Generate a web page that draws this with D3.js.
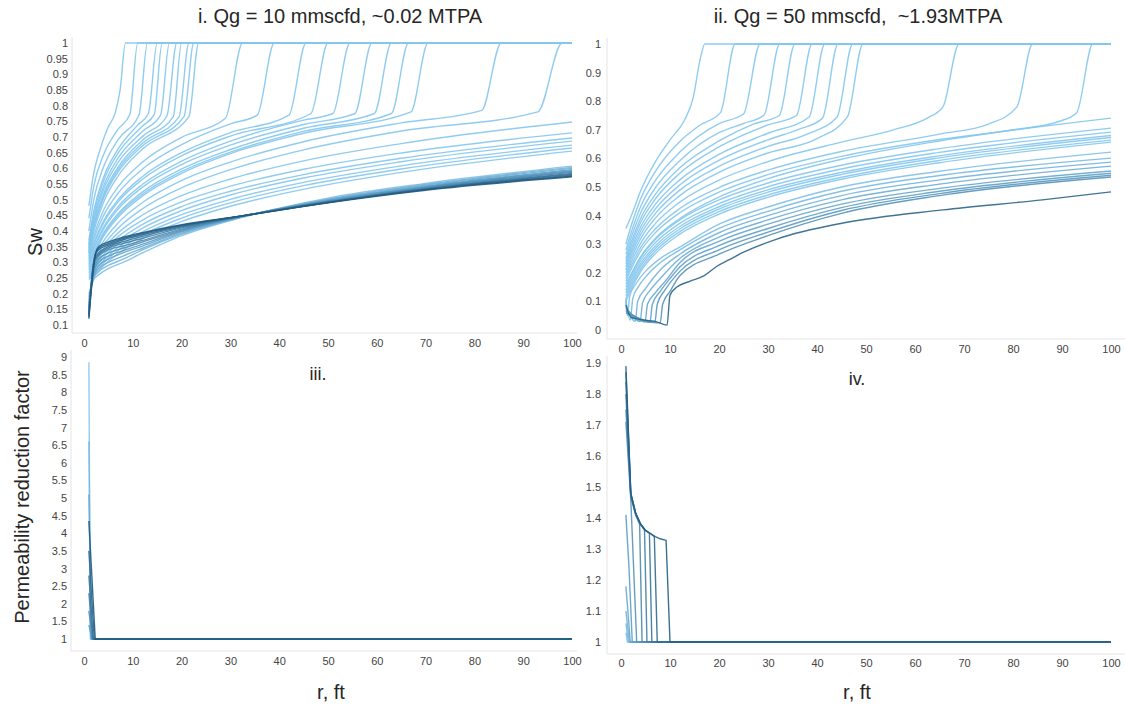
<!DOCTYPE html>
<html>
<head>
<meta charset="utf-8">
<script src="https://cdn.jsdelivr.net/npm/d3@7"></script>
<style>
  body { margin: 0; background: #fff; }
  svg text { font-family: "Liberation Sans", Arial, sans-serif; }
</style>
</head>
<body>
<svg id="chart" width="1125" height="707"></svg>
<script>
// ---- data ----
var titleLeft = "i. Qg = 10 mmscfd, ~0.02 MTPA";
var titleRight = "ii. Qg = 50 mmscfd,  ~1.93MTPA";
var labelLowerLeft = "iii.";
var labelLowerRight = "iv.";

var rTicks = [0, 10, 20, 30, 40, 50, 60, 70, 80, 90, 100];
var swTicksLeft = [0.1, 0.15, 0.2, 0.25, 0.3, 0.35, 0.4, 0.45, 0.5, 0.55, 0.6, 0.65, 0.7, 0.75, 0.8, 0.85, 0.9, 0.95, 1];
var swTicksRight = [0, 0.1, 0.2, 0.3, 0.4, 0.5, 0.6, 0.7, 0.8, 0.9, 1];
var prfTicksLeft = [1, 1.5, 2, 2.5, 3, 3.5, 4, 4.5, 5, 5.5, 6, 6.5, 7, 7.5, 8, 8.5, 9];
var prfTicksRight = [1, 1.1, 1.2, 1.3, 1.4, 1.5, 1.6, 1.7, 1.8, 1.9];

// panel i: profiles that reach Sw = 1
var swLeftSaturated = [
  [[1,.48],[2,.585],[3,.645],[4.9,.73],[6.4,.777],[7.4,.85],[8.5,1],[100,1]],
  [[1,.44],[2,.542],[4,.643],[7,.725],[9.4,.772],[11,1],[100,1]],
  [[1,.40],[2,.499],[4,.604],[7,.692],[11.3,.772],[13,1],[100,1]],
  [[1,.37],[2,.464],[4,.571],[7,.662],[11,.738],[13.2,.775],[15,1],[100,1]],
  [[1,.36],[2,.453],[4,.559],[7,.649],[12,.735],[14.4,.772],[16,1],[100,1]],
  [[1,.355],[2,.44],[4,.543],[7,.633],[12,.718],[15.7,.77],[17.5,1],[100,1]],
  [[1,.35],[2,.432],[4,.532],[7,.619],[12,.702],[17,.767],[19,1],[100,1]],
  [[1,.345],[2,.42],[4,.518],[7,.604],[12,.69],[18.3,.765],[20,1],[100,1]],
  [[1,.34],[2,.414],[4,.51],[7,.596],[12,.68],[19.5,.765],[21.5,1],[100,1]],
  [[1,.335],[2,.408],[4,.504],[7,.589],[12,.672],[20.5,.765],[22.5,1],[100,1]],
  [[1,.33],[2,.398],[4,.491],[7,.576],[12,.662],[21.5,.765],[23.5,1],[100,1]],
  [[1,.33],[2,.385],[4,.466],[7,.541],[12,.62],[20,.699],[29,.76],[32.5,1],[100,1]],
  [[1,.325],[2,.374],[4,.449],[7,.521],[12,.598],[20,.676],[30,.742],[35.5,.77],[39,1],[100,1]],
  [[1,.32],[2,.362],[4,.432],[7,.50],[12,.574],[20,.65],[30,.714],[42,.77],[45.5,1],[100,1]],
  [[1,.315],[2,.357],[4,.425],[7,.493],[12,.565],[20,.64],[30,.703],[46.5,.775],[50,1],[100,1]],
  [[1,.31],[2,.347],[4,.412],[7,.478],[12,.549],[20,.623],[30,.687],[45,.754],[51,.775],[54.5,1],[100,1]],
  [[1,.305],[2,.342],[4,.406],[7,.47],[12,.54],[20,.612],[30,.674],[45,.74],[55.5,.775],[59,1],[100,1]],
  [[1,.30],[2,.333],[4,.394],[7,.456],[12,.525],[20,.598],[30,.66],[45,.728],[59.5,.775],[63,1],[100,1]],
  [[1,.295],[2,.328],[4,.388],[7,.45],[12,.518],[20,.59],[30,.652],[45,.718],[63,.775],[66.5,1],[100,1]],
  [[1,.29],[2,.323],[4,.383],[7,.444],[12,.512],[20,.584],[30,.647],[45,.712],[67,.78],[70.5,1],[100,1]],
  [[1,.285],[2,.313],[4,.368],[7,.426],[12,.491],[20,.561],[30,.62],[45,.685],[65,.745],[81.5,.785],[85.5,1],[100,1]],
  [[1,.28],[2,.305],[4,.355],[7,.409],[12,.471],[20,.538],[30,.596],[45,.659],[65,.719],[93,.78],[98,1],[100,1]]
];

// panel i: profiles still rising at r = 100
var swLeftRising = [
  [[1,.275],[2,.298],[4,.344],[7,.394],[12,.451],[20,.513],[30,.566],[45,.624],[65,.679],[100,.748]],
  [[1,.27],[2,.291],[4,.335],[7,.382],[12,.435],[20,.493],[30,.543],[45,.597],[65,.649],[100,.713]],
  [[1,.265],[2,.284],[4,.325],[7,.369],[12,.421],[20,.478],[30,.527],[45,.58],[65,.632],[100,.697]],
  [[1,.26],[2,.277],[4,.316],[7,.359],[12,.409],[20,.465],[30,.515],[45,.569],[65,.621],[100,.687]],
  [[1,.255],[2,.27],[4,.306],[7,.348],[12,.397],[20,.452],[30,.501],[45,.555],[65,.608],[100,.674]],
  [[1,.25],[2,.264],[4,.298],[7,.338],[12,.387],[20,.441],[30,.49],[45,.545],[65,.598],[100,.665]],
  [[1,.245],[2,.257],[4,.289],[7,.328],[12,.376],[20,.43],[30,.479],[45,.533],[65,.587],[100,.655]]
];

// panel i: late profiles crossing near r = 32
var swLeftBundle = [
  [[1,.20],[2,.245],[3,.26],[5,.28],[8,.30],[12,.33],[20,.385],[32,.442],[50,.505],[70,.552],[100,.607]],
  [[1,.19],[2,.25],[3,.27],[5,.29],[8,.31],[12,.34],[20,.39],[32,.443],[50,.502],[70,.549],[100,.603]],
  [[1,.18],[2,.255],[3,.28],[5,.30],[8,.32],[12,.345],[20,.393],[32,.444],[50,.50],[70,.546],[100,.60]],
  [[1,.17],[2,.26],[3,.29],[5,.31],[8,.33],[12,.352],[20,.397],[32,.445],[50,.498],[70,.543],[100,.596]],
  [[1,.16],[2,.27],[3,.30],[5,.32],[8,.337],[12,.358],[20,.40],[32,.445],[50,.497],[70,.541],[100,.593]],
  [[1,.155],[2,.28],[3,.31],[5,.33],[8,.345],[12,.365],[20,.403],[32,.446],[50,.495],[70,.539],[100,.59]],
  [[1,.15],[2,.29],[3,.32],[5,.34],[8,.352],[12,.37],[20,.406],[32,.446],[50,.494],[70,.537],[100,.587]],
  [[1,.14],[2,.30],[3,.325],[5,.345],[8,.36],[12,.377],[20,.41],[32,.447],[50,.493],[70,.535],[100,.584]],
  [[1,.135],[2.2,.31],[3,.33],[5,.35],[8,.366],[12,.383],[20,.413],[32,.447],[50,.492],[70,.534],[100,.581]],
  [[1,.13],[2.2,.32],[3,.34],[5,.355],[8,.372],[12,.388],[20,.416],[32,.447],[50,.491],[70,.533],[100,.578]],
  [[1,.125],[2.3,.325],[3,.345],[5,.36],[8,.376],[12,.392],[20,.418],[32,.447],[50,.491],[70,.532],[100,.575]],
  [[1,.12],[2.4,.33],[3,.35],[5,.365],[8,.38],[12,.395],[20,.42],[32,.447],[50,.49],[70,.53],[100,.573]]
];

// panel ii: profiles that reach Sw = 1
var swRightSaturated = [
  [[1,.355],[2,.395],[4,.486],[7,.588],[10,.665],[13,.735],[14.7,.81],[16.2,.95],[17.1,1],[100,1]],
  [[1,.30],[2,.36],[4,.458],[7,.554],[12,.659],[16,.715],[20.3,.76],[23.3,1],[100,1]],
  [[1,.28],[2,.337],[4,.431],[7,.522],[12,.622],[20,.722],[25,.755],[28.4,1],[100,1]],
  [[1,.265],[2,.32],[4,.409],[7,.497],[12,.592],[20,.69],[25,.722],[29.2,.752],[32.4,1],[100,1]],
  [[1,.25],[2,.303],[4,.39],[7,.474],[12,.567],[20,.661],[27,.72],[32.3,.75],[35.5,1],[100,1]],
  [[1,.24],[2,.291],[4,.376],[7,.458],[12,.548],[20,.64],[30,.717],[35.8,.75],[39,1],[100,1]],
  [[1,.23],[2,.279],[4,.36],[7,.439],[12,.525],[20,.614],[30,.688],[38.4,.745],[41.6,1],[100,1]],
  [[1,.22],[2,.268],[4,.346],[7,.423],[12,.507],[20,.593],[30,.665],[36,.70],[41.1,.74],[44.3,1],[100,1]],
  [[1,.21],[2,.257],[4,.333],[7,.407],[12,.489],[20,.572],[30,.642],[38,.685],[44.1,.745],[47.3,1],[100,1]],
  [[1,.20],[2,.245],[4,.319],[7,.391],[12,.47],[20,.551],[30,.619],[40,.669],[46.2,.745],[49.4,1],[100,1]],
  [[1,.19],[2,.233],[4,.303],[7,.372],[12,.447],[20,.524],[30,.589],[45,.657],[55.6,.70],[62.4,.74],[65.7,.78],[69,1],[100,1]],
  [[1,.18],[2,.221],[4,.288],[7,.353],[12,.425],[20,.498],[30,.559],[45,.624],[65,.685],[75,.72],[80.8,.78],[84,1],[100,1]],
  [[1,.17],[2,.21],[4,.276],[7,.34],[12,.41],[20,.482],[30,.543],[45,.607],[65,.666],[80,.70],[89.5,.73],[93,.76],[96.3,1],[100,1]]
];

// panel ii: profiles still rising at r = 100
var swRightRising = [
  [[1,.16],[2,.194],[4,.256],[7,.32],[12,.39],[20,.465],[30,.529],[45,.597],[65,.661],[100,.741]],
  [[1,.15],[2,.189],[4,.253],[7,.316],[12,.385],[20,.455],[30,.514],[45,.576],[65,.634],[100,.706]],
  [[1,.14],[2,.179],[4,.243],[7,.305],[12,.373],[20,.442],[30,.501],[45,.563],[65,.621],[100,.692]],
  [[1,.13],[2,.169],[4,.232],[7,.294],[12,.362],[20,.431],[30,.49],[45,.551],[65,.609],[100,.68]],
  [[1,.12],[2,.159],[4,.223],[7,.285],[12,.353],[20,.423],[30,.482],[45,.544],[65,.602],[100,.673]],
  [[1,.11],[2,.149],[4,.213],[7,.276],[12,.344],[20,.414],[30,.472],[45,.534],[65,.593],[100,.664]],
  [[1,.10],[2,.139],[4,.204],[7,.267],[12,.335],[20,.405],[30,.464],[45,.527],[65,.585],[100,.657]]
];

// panel ii: dried-out near-well profiles
var swRightNotched = [
  [[1,.11],[1.3,.05],[1.8,.12],[3,.16],[5,.205],[8,.25],[12,.29],[20,.37],[30,.43],[45,.50],[65,.555],[100,.622]],
  [[1,.10],[1.9,.035],[2.4,.11],[3.5,.15],[5.5,.195],[8,.235],[12,.28],[20,.355],[30,.415],[45,.485],[65,.54],[100,.601]],
  [[1,.09],[2.9,.03],[3.4,.10],[5,.145],[8,.21],[12,.265],[20,.34],[30,.40],[45,.47],[65,.525],[100,.587]],
  [[1,.08],[3.9,.03],[4.4,.095],[6,.14],[8,.18],[12,.25],[20,.325],[30,.385],[45,.455],[65,.51],[100,.573]],
  [[1,.075],[4.9,.028],[5.4,.09],[7,.13],[9,.17],[12,.235],[20,.31],[30,.37],[45,.44],[65,.495],[100,.556]],
  [[1,.07],[5.9,.027],[6.4,.09],[8,.135],[10,.18],[12,.22],[20,.295],[30,.355],[45,.428],[65,.485],[100,.548]],
  [[1,.065],[6.9,.026],[7.4,.09],[9,.14],[12,.205],[20,.28],[30,.342],[45,.418],[65,.477],[100,.541]],
  [[1,.06],[8,.025],[8.5,.09],[10,.135],[12,.19],[20,.265],[30,.33],[45,.408],[65,.47],[100,.535]]
];
var swRightLast = [[1,.087],[2,.045],[3,.04],[5,.034],[7,.03],[9.4,.017],[10,.122],[11.4,.15],[14,.17],[17,.19],[19.5,.222],[22,.245],[25,.272],[31.8,.318],[45.3,.374],[65.7,.42],[86,.455],[100,.483]];

// panel iii: permeability reduction factor
var prfLeftSeries = [
  [[1,8.85],[1.3,1],[100,1]],
  [[1,6.6],[1.4,1],[100,1]],
  [[1,5.1],[1.5,1],[100,1]],
  [[1,1.4],[1.6,1],[100,1]],
  [[1,1.8],[1.7,1],[100,1]],
  [[1,2.3],[1.8,1],[100,1]],
  [[1,2.8],[1.9,1],[100,1]],
  [[1,3.5],[2.1,1],[100,1]],
  [[1,4.35],[2.3,1],[100,1]]
];

// panel iv: permeability reduction factor
var prfRightSeries = [
  [[1,1.03],[1.3,1],[100,1]],
  [[1,1.06],[1.5,1],[100,1]],
  [[1,1.1],[1.7,1],[100,1]],
  [[1,1.18],[1.9,1],[100,1]],
  [[1,1.41],[1.6,1.25],[2.3,1],[100,1]],
  [[1,1.71],[2,1.46],[3.2,1],[100,1]],
  [[1,1.75],[2,1.47],[3,1.41],[3.8,1.38],[4.3,1],[100,1]],
  [[1,1.8],[2,1.47],[3,1.41],[4,1.38],[4.8,1.36],[5.3,1],[100,1]],
  [[1,1.84],[2,1.475],[3,1.415],[4,1.38],[5,1.36],[5.8,1.35],[6.3,1],[100,1]],
  [[1,1.87],[2,1.48],[3,1.415],[4,1.38],[5,1.36],[6,1.35],[6.8,1.34],[7.4,1],[100,1]],
  [[1,1.89],[2,1.48],[3,1.415],[4,1.38],[5,1.36],[6,1.35],[7,1.34],[8,1.333],[9.2,1.328],[10,1],[100,1]]
];

// ---- drawing ----
var svg = d3.select("#chart");
svg.append("rect").attr("width", 1125).attr("height", 707).attr("fill", "#fff");

var shade = d3.interpolateRgb("#84c6ee", "#1b5479");

function tint(list, t0, t1) {
    return list.map(function(pts, i) {
        var t = list.length > 1 ? t0 + (t1 - t0) * i / (list.length - 1) : t0;
        return { pts: pts, color: shade(t) };
    });
}

function drawPanel(p) {
    var x = d3.scaleLinear().domain([0, 100]).range([p.x0, p.x1]),
        y = d3.scaleLinear().domain(p.yDomain).range(p.yRange);

    var g = svg.append("g");

    g.append("line")
        .attr("x1", p.axisX).attr("x2", p.axisX)
        .attr("y1", p.axisTop).attr("y2", p.baseY)
        .attr("stroke", "#e4e4e4");
    g.append("line")
        .attr("x1", p.axisX).attr("x2", p.axisRight)
        .attr("y1", p.baseY).attr("y2", p.baseY)
        .attr("stroke", "#e4e4e4");

    g.append("g")
        .attr("class", "axis axis--y")
        .attr("transform", "translate(" + p.axisX + ",0)")
        .call(d3.axisLeft(y).tickValues(p.yTicks).tickSize(0).tickPadding(p.yPad)
            .tickFormat(function(d) { return String(d); }))
        .call(function(a) { a.select(".domain").remove(); });

    g.append("g")
        .attr("class", "axis axis--x")
        .attr("transform", "translate(0," + p.baseY + ")")
        .call(d3.axisBottom(x).tickValues(rTicks).tickSize(0).tickPadding(p.xPad))
        .call(function(a) { a.select(".domain").remove(); });

    g.selectAll(".axis text")
        .style("font-family", "\"Liberation Sans\", Arial, sans-serif")
        .style("font-size", "11px")
        .attr("fill", "#444");

    var line = d3.line()
        .x(function(d) { return x(d[0]); })
        .y(function(d) { return y(d[1]); })
        .curve(p.curve);

    g.selectAll(".profile")
        .data(p.series)
        .enter().append("path")
        .attr("class", "profile")
        .attr("d", function(s) { return line(s.pts); })
        .attr("fill", "none")
        .attr("stroke", function(s) { return s.color; })
        .attr("stroke-width", 1.4)
        .attr("stroke-opacity", 0.9)
        .attr("stroke-linejoin", "round");
}

drawPanel({
    x0: 84, x1: 572, yDomain: [0.1, 1], yRange: [325, 43],
    axisX: 72, axisTop: 37, baseY: 333, axisRight: 577,
    yTicks: swTicksLeft, yPad: 4, xPad: 6, curve: d3.curveMonotoneX,
    series: tint(swLeftSaturated, 0, 0).concat(tint(swLeftRising, 0, 0), tint(swLeftBundle, 0.05, 0.95))
});

drawPanel({
    x0: 621, x1: 1111, yDomain: [0, 1], yRange: [330, 44],
    axisX: 607, axisTop: 38, baseY: 339, axisRight: 1125,
    yTicks: swTicksRight, yPad: 6, xPad: 6, curve: d3.curveMonotoneX,
    series: tint(swRightSaturated, 0, 0).concat(tint(swRightRising, 0, 0),
        tint(swRightNotched, 0.05, 0.45), tint([swRightLast], 0.85, 0.85))
});

drawPanel({
    x0: 84, x1: 572, yDomain: [1, 9], yRange: [639, 357],
    axisX: 71, axisTop: 350, baseY: 651, axisRight: 577,
    yTicks: prfTicksLeft, yPad: 4, xPad: 6, curve: d3.curveLinear,
    series: tint(prfLeftSeries, 0, 0.95)
});

drawPanel({
    x0: 621, x1: 1111, yDomain: [1, 1.9], yRange: [642, 363],
    axisX: 607, axisTop: 356, baseY: 654, axisRight: 1125,
    yTicks: prfTicksRight, yPad: 6, xPad: 5, curve: d3.curveLinear,
    series: tint(prfRightSeries, 0, 0.9)
});

// ---- titles and axis names ----
function label(txt, px, py, size, rot) {
    return svg.append("text")
        .attr("transform", "translate(" + px + "," + py + ")" + (rot ? " rotate(" + rot + ")" : ""))
        .attr("text-anchor", "middle")
        .style("font-size", size + "px")
        .style("white-space", "pre")
        .attr("fill", "#262626")
        .text(txt);
}

label(titleLeft, 340, 23, 20);
label(titleRight, 858, 23, 20);
label(labelLowerLeft, 318, 380, 18);
label(labelLowerRight, 857, 385, 18);
label("Sw", 42, 242, 20, -90);
label("Permeability reduction factor", 29, 497, 20, -90);
label("r, ft", 331, 699, 20);
label("r, ft", 857, 699, 20);
</script>
</body>
</html>
